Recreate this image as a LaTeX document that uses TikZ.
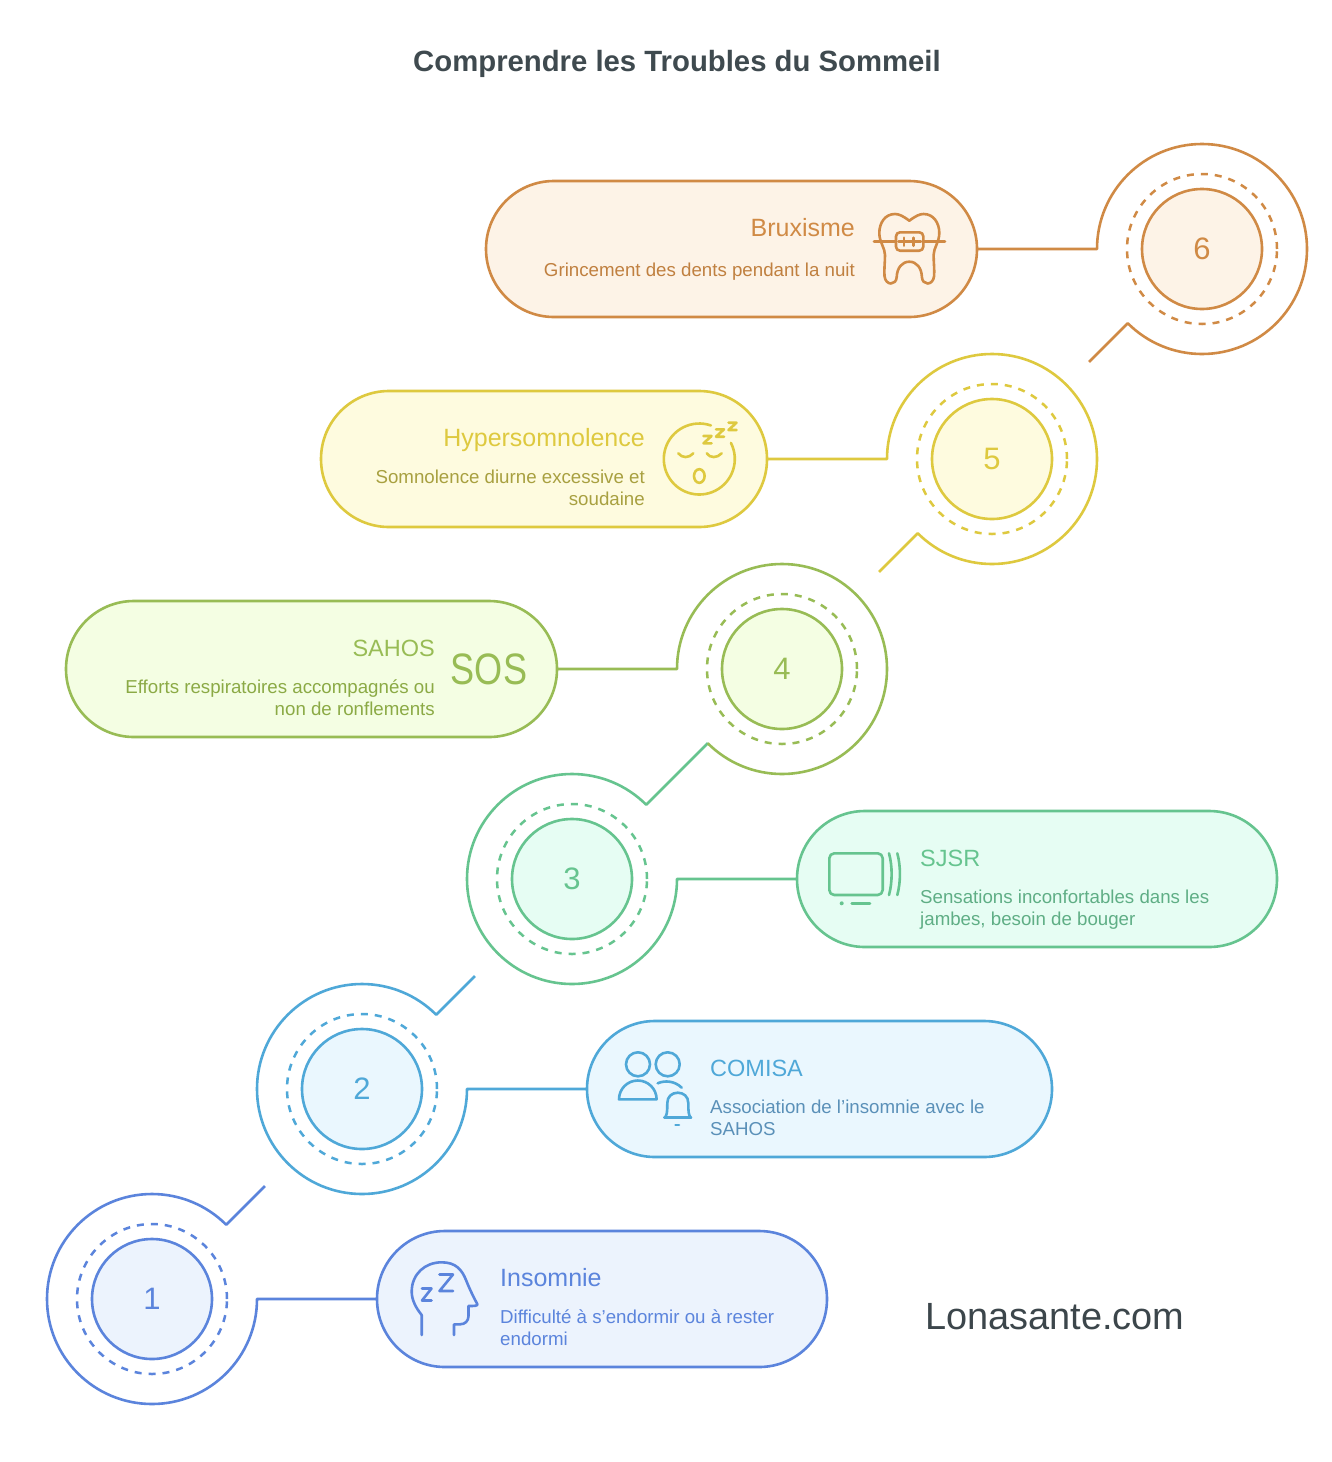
\documentclass[tikz,border=0pt]{standalone}
\usepackage{fontspec}
\setmainfont{Liberation Sans}
\definecolor{sA}{HTML}{5B84DC}\definecolor{fA}{HTML}{ECF3FD}\definecolor{tA}{HTML}{5B84DC}
\definecolor{sB}{HTML}{4FA8D8}\definecolor{fB}{HTML}{EAF7FE}\definecolor{tB}{HTML}{5A90B8}
\definecolor{sC}{HTML}{66C48F}\definecolor{fC}{HTML}{E6FDF3}\definecolor{tC}{HTML}{5FAE85}
\definecolor{sD}{HTML}{98BC55}\definecolor{fD}{HTML}{F4FEE3}\definecolor{tD}{HTML}{8BAA45}
\definecolor{sE}{HTML}{DEC93F}\definecolor{fE}{HTML}{FEFBDF}\definecolor{tE}{HTML}{A8A040}
\definecolor{sF}{HTML}{D08A45}\definecolor{fF}{HTML}{FDF3E7}\definecolor{tF}{HTML}{C08040}
\definecolor{ink}{HTML}{3F4A4F}
\tikzset{
 line/.style={line width=2.6pt,line join=round},
 ic/.style={line width=2.6pt,line cap=round,line join=round},
 pill/.style n args={4}{draw=#1,fill=#2,line width=2.6pt,rounded corners=67.9pt,inner sep=0pt,outer sep=0pt,minimum width=#3,minimum height=#4},
 inner/.style n args={2}{circle,draw=#1,fill=#2,line width=2.6pt,minimum size=120pt,inner sep=0pt,outer sep=0pt,text=#1,font=\fontsize{31}{36}\selectfont},
 dash/.style={circle,draw=#1,line width=2.5pt,minimum size=150pt,inner sep=0pt,outer sep=0pt,dash pattern=on 7pt off 7pt},
 outerc/.style={circle,minimum size=210pt,inner sep=0pt,outer sep=0pt},
 head/.style={inner sep=0pt,font=\fontsize{25}{29}\selectfont},
 heads/.style={inner sep=0pt,font=\fontsize{23.5}{29}\selectfont},
 desc/.style={inner sep=0pt,font=\fontsize{18.7}{22}\selectfont},
}
\begin{document}
\begin{tikzpicture}[x=1pt,y=-1pt]
\useasboundingbox (0,0) rectangle (1332,1462);
\fill[white] (0,0) rectangle (1332,1462);
\node[inner sep=0pt,text=ink,font=\bfseries\fontsize{29.3}{34}\selectfont] (title) at (677,64) {Comprendre les Troubles du Sommeil};
\node[inner sep=0pt,text=ink!95!black,font=\fontsize{37.9}{44}\selectfont] (site) at (1055,1317) {Lonasante.com};
% pills
\node[pill={sA}{fA}{450pt}{136pt}] (b1) at (602,1299) {};
\node[pill={sB}{fB}{465pt}{136pt}] (b2) at (819.5,1089) {};
\node[pill={sC}{fC}{480pt}{136pt}] (b3) at (1037,879) {};
\node[pill={sD}{fD}{491pt}{136pt}] (b4) at (311.5,669) {};
\node[pill={sE}{fE}{446pt}{136pt}] (b5) at (544,459) {};
\node[pill={sF}{fF}{491pt}{136pt}] (b6) at (731.5,249) {};
% circles
\foreach \n/\cx/\cy/\s/\f/\t in {1/152/1299/sA/fA/1,2/362/1089/sB/fB/2,3/572/879/sC/fC/3,4/782/669/sD/fD/4,5/992/459/sE/fE/5,6/1202/249/sF/fF/6}{
 \node[outerc] (o\n) at (\cx,\cy) {};
 \node[dash=\s] (d\n) at (\cx,\cy) {};
 \node[inner={\s}{\f}] (n\n) at (\cx,\cy) {\t};
}
% connectors
\coordinate (e1) at (265,1186);
\coordinate (e2) at (475,976);
\coordinate (e3) at (708,743);
\coordinate (e5) at (879,572);
\coordinate (e6) at (1089,362);
\draw[line,sA] (b1.west) -- (o1.east) arc[start angle=0,end angle=315,radius=105] -- (e1);
\draw[line,sB] (b2.west) -- (o2.east) arc[start angle=0,end angle=315,radius=105] -- (e2);
\draw[line,sC] (b3.west) -- (o3.east) arc[start angle=0,end angle=315,radius=105] -- (e3);
\draw[line,sD] (b4.east) -- (o4.west) arc[start angle=180,end angle=495,radius=105];
\draw[line,sE] (b5.east) -- (o5.west) arc[start angle=180,end angle=495,radius=105] -- (e5);
\draw[line,sF] (b6.east) -- (o6.west) arc[start angle=180,end angle=495,radius=105] -- (e6);
% texts
\node[head,text=sF,anchor=base east] (h6) at (855,236) {Bruxisme};
\node[desc,text=tF,anchor=base east,align=right] (t6) at (855,276.5) {Grincement des dents pendant la nuit};
\node[head,text=sE,anchor=base east] (h5) at (645,446) {Hypersomnolence};
\node[desc,text=tE,anchor=base east,align=right] (t5) at (645,505.5) {Somnolence diurne excessive et\\soudaine};
\node[heads,text=sD,anchor=base east] (h4) at (435,656) {SAHOS};
\node[desc,text=tD,anchor=base east,align=right] (t4) at (435,715.5) {Efforts respiratoires accompagnés ou\\non de ronflements};
\node[inner sep=0pt,text=sD,font=\fontsize{44}{48}\selectfont] (sos) at (489,669) {\scalebox{0.82}[1]{SOS}};
\node[heads,text=sC,anchor=base west] (h3) at (920,866) {SJSR};
\node[desc,text=tC,anchor=base west,align=left] (t3) at (920,925.5) {Sensations inconfortables dans les\\jambes, besoin de bouger};
\node[heads,text=sB,anchor=base west] (h2) at (710,1076) {COMISA};
\node[desc,text=tB,anchor=base west,align=left] (t2) at (710,1135.5) {Association de l{\char"27}insomnie avec le\\SAHOS};
\node[head,text=sA,anchor=base west] (h1) at (500,1286) {Insomnie};
\node[desc,text=tA,anchor=base west,align=left] (t1) at (500,1345.5) {Difficulté à s{\char"27}endormir ou à rester\\endormi};
% tooth
\begin{scope}[ic,draw=sF]
\draw (909.3,220.7) .. controls (903,216) and (899,214) .. (895,214) .. controls (885,214) and (879.3,223) .. (879.3,233) .. controls (879.3,242) and (885,248) .. (885,255) .. controls (885,262) and (884,270) .. (884.5,276) .. controls (885,281) and (888,283.5) .. (891,283.5) .. controls (894,283.5) and (896.5,281) .. (896.7,277) .. controls (897,268) and (902,261.7) .. (909.3,261.7) .. controls (916.6,261.7) and (921.6,268) .. (921.9,277) .. controls (922.1,281) and (924.6,283.5) .. (927.6,283.5) .. controls (930.6,283.5) and (933.6,281) .. (934.1,276) .. controls (934.6,270) and (933.6,262) .. (933.6,255) .. controls (933.6,248) and (939.3,242) .. (939.3,233) .. controls (939.3,223) and (933.6,214) .. (923.6,214) .. controls (919.6,214) and (915.6,216) .. (909.3,220.7) -- cycle;
\draw (874,241.7) -- (945,241.7);
\draw[rounded corners=4pt,fill=fF] (896,232.3) rectangle (923.3,250.7);
\draw (898.5,241.7) -- (921,241.7);
\draw (904,237.7) -- (904,245.7);
\draw (913.3,237.7) -- (913.3,245.7);
\end{scope}
% sleep face
\begin{scope}[ic,draw=sE]
\coordinate (fc) at (699.3,459);
\draw (fc) ++(-27:35.5) arc[start angle=-27,end angle=289,radius=35.5];
\draw (703.5,436) -- (711.5,436) -- (703.5,443.3) -- (711.5,443.3);
\draw (716,429.3) -- (724,429.3) -- (716,436.7) -- (724,436.7);
\draw (728.5,422.7) -- (736.5,422.7) -- (728.5,430) -- (736.5,430);
\draw (678.3,453.3) .. controls (682,458.3) and (689,458.3) .. (693.3,453.3);
\draw (706.7,453.3) .. controls (710,458.3) and (717,458.3) .. (721.7,453.3);
\draw (699.3,476) ellipse[x radius=5.3,y radius=6.8];
\end{scope}
% screen
\begin{scope}[ic,draw=sC]
\draw[rounded corners=5pt] (829.3,853.3) rectangle (882.7,895);
\draw (889,853.3) .. controls (892.5,866) and (892.5,882) .. (889,895);
\draw (897.3,853.3) .. controls (900.8,866) and (900.8,882) .. (897.3,895);
\fill[sC] (841.7,903.3) circle[radius=2];
\draw (851.7,903.3) -- (870,903.3);
\end{scope}
% people and bell
\begin{scope}[ic,draw=sB]
\draw (638,1064.3) circle[radius=12];
\draw (667.7,1064.3) circle[radius=12];
\draw (619,1099.3) arc[start angle=180,end angle=360,radius=18.8] -- cycle;
\draw (657.7,1083.3) .. controls (665,1080) and (675,1081) .. (681.7,1087.7);
\draw (664.3,1117.7) -- (691,1117.7);
\draw (664.8,1117.7) .. controls (667,1115) and (667.3,1112) .. (667.3,1103) .. controls (667.3,1096.5) and (672,1092.7) .. (677.8,1092.7) .. controls (683.6,1092.7) and (688.3,1096.5) .. (688.3,1103) .. controls (688.3,1112) and (688.6,1115) .. (690.8,1117.7);
\draw (675.5,1125) -- (679,1125);
\end{scope}
% head
\begin{scope}[ic,draw=sA]
\draw (421.7,1335) -- (421.7,1315) .. controls (416,1308) and (411.7,1300) .. (411.7,1291.7) .. controls (411.7,1274) and (425,1262.3) .. (441.7,1262.3) .. controls (456,1262.3) and (462,1270) .. (466,1280) .. controls (470,1290) and (474,1298) .. (477.3,1304) .. controls (478,1306) and (474,1306) .. (468.5,1306) -- (468.5,1316) .. controls (468.5,1321) and (465,1324.3) .. (460,1324.3) -- (454,1324.3) -- (454,1335);
\draw (422,1288.5) -- (431.5,1288.5) -- (422,1300.5) -- (431.5,1300.5);
\draw (439.5,1274.5) -- (453,1274.5) -- (439.5,1291) -- (453,1291);
\end{scope}
\end{tikzpicture}
\end{document}
